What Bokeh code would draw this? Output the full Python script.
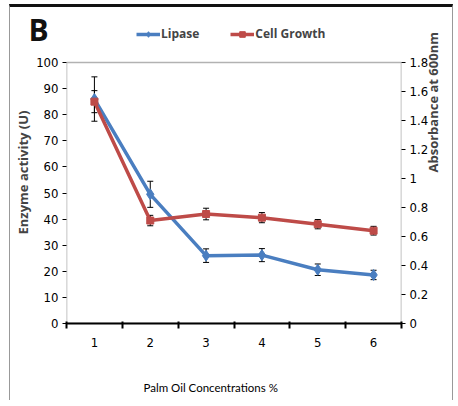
import math
from bokeh.plotting import figure
from bokeh.models import (ColumnDataSource, Range1d, LinearAxis, FixedTicker, Whisker, Title,
                          TeeHead, Legend, LegendItem, NumeralTickFormatter, BoxAnnotation)
from bokeh.embed import file_html
from bokeh.resources import INLINE

# ---- data ----
conc = [1, 2, 3, 4, 5, 6]
conc_labels = ["1", "2", "3", "4", "5", "6"]
lipase = [86.0, 49.5, 26.0, 26.2, 20.6, 18.6]
lipase_err = [8.5, 5.0, 2.6, 2.5, 2.2, 1.8]
growth = [1.53, 0.71, 0.755, 0.73, 0.685, 0.64]
growth_err = [0.076, 0.036, 0.04, 0.035, 0.032, 0.03]
left_ticks = list(range(0, 101, 10))
right_ticks = [round(0.2 * i, 1) for i in range(10)]

BLUE = "#4A7EC0"
RED = "#BE4B48"
TICKF = "DejaVu Sans Condensed, Lato"
TEXTF = "Lato"
BOLDF = "Open Sans"

LEFT_MAX = 100.0
RIGHT_MAX = 1.8
HEAD = 1.1571  # extra room above the plot box for the legend

src_l = ColumnDataSource(dict(x=conc, y=lipase,
                              lo=[a - b for a, b in zip(lipase, lipase_err)],
                              hi=[a + b for a, b in zip(lipase, lipase_err)]))
src_g = ColumnDataSource(dict(x=conc, y=growth,
                              lo=[a - b for a, b in zip(growth, growth_err)],
                              hi=[a + b for a, b in zip(growth, growth_err)]))

p = figure(width=444, height=396, output_backend="svg", toolbar_location=None,
           x_range=Range1d(0.5, 6.5), y_range=Range1d(0, LEFT_MAX * HEAD),
           min_border_left=56, min_border_right=52, min_border_top=14, min_border_bottom=80)
p.styles = {"margin": "4px 0px 0px 9px", "border-top": "3px solid #111111",
            "border-left": "1px solid #999999", "border-right": "1px solid #999999"}
p.extra_y_ranges = {"abs": Range1d(0, RIGHT_MAX * HEAD)}
p.grid.visible = False
p.outline_line_color = None
p.background_fill_color = "white"
p.border_fill_color = "white"

# panel letter (title)
p.title.text = "B"
p.title.align = "left"
p.title.offset = -38
p.title.standoff = -56
p.title.text_font = BOLDF
p.title.text_font_style = "bold"
p.title.text_font_size = "30px"
p.title.text_color = "#111111"

# plot box
p.add_layout(BoxAnnotation(left=0.5, right=6.5, bottom=0, top=LEFT_MAX, fill_color=None,
                           line_color="black", line_width=1.6))

# x axis
xa = p.xaxis[0]
xa.ticker = FixedTicker(ticks=conc, minor_ticks=[0.5 + i for i in range(7)])
xa.major_label_overrides = {c: l for c, l in zip(conc, conc_labels)}
xa.major_tick_out = 0
xa.major_tick_in = 0
xa.minor_tick_out = 5
xa.minor_tick_in = 2
xa.minor_tick_line_color = "black"
xa.minor_tick_line_width = 2
xa.axis_line_width = 2
xa.major_label_standoff = 9
xa.major_label_text_font = TICKF
xa.major_label_text_font_size = "13px"
xa.major_label_text_color = "black"
p.add_layout(Title(text="\n\nPalm Oil Concentrations %", align="left", offset=77, standoff=6,
                   vertical_align="bottom", text_font=TEXTF, text_font_style="normal",
                   text_font_size="11.5px", text_color="black"), "below")

# left axis
ya = p.yaxis[0]
ya.ticker = FixedTicker(ticks=left_ticks)
ya.minor_tick_line_color = None
ya.axis_line_color = None
ya.major_tick_out = 4
ya.major_tick_in = 0
ya.major_label_standoff = 4
ya.major_label_text_font = TICKF
ya.major_label_text_font_size = "13px"
ya.major_label_text_color = "black"
ya.axis_label = "Enzyme activity (U)"
ya.axis_label_text_font = BOLDF
ya.axis_label_text_font_style = "bold"
ya.axis_label_text_font_size = "13px"
ya.axis_label_standoff = 1

# right axis
ra = LinearAxis(y_range_name="abs", ticker=FixedTicker(ticks=right_ticks),
                formatter=NumeralTickFormatter(format="0.[0]"))
ra.minor_tick_line_color = None
ra.axis_line_color = None
ra.major_tick_out = 4
ra.major_tick_in = 0
ra.major_label_standoff = 4
ra.major_label_text_font = TICKF
ra.major_label_text_font_size = "13px"
ra.major_label_text_color = "black"
ra.axis_label = "Absorbance at 600nm"
ra.axis_label_orientation = -3 * math.pi / 2
ra.axis_label_text_font = BOLDF
ra.axis_label_text_font_style = "bold"
ra.axis_label_text_font_size = "13px"
ra.axis_label_standoff = 2
p.add_layout(ra, "right")

# error bars
for src, rng in ((src_l, "default"), (src_g, "abs")):
    p.add_layout(Whisker(source=src, base="x", lower="lo", upper="hi", y_range_name=rng,
                         line_color="black", line_width=1,
                         upper_head=TeeHead(size=6, line_color="black"),
                         lower_head=TeeHead(size=6, line_color="black")))

# series
rl = p.line("x", "y", source=src_l, line_color=BLUE, line_width=3.5)
rg = p.line("x", "y", source=src_g, y_range_name="abs", line_color=RED, line_width=3.5)
ml = p.scatter("x", "y", source=src_l, marker="diamond", size=11, fill_color=BLUE, line_color=BLUE)
mg = p.scatter("x", "y", source=src_g, y_range_name="abs", marker="square", size=7,
               fill_color=RED, line_color=RED)

legend = Legend(items=[LegendItem(label="Lipase", renderers=[rl, ml]),
                       LegendItem(label="Cell Growth", renderers=[rg, mg])],
                orientation="horizontal", location=(70, 281), padding=0, margin=0,
                spacing=31, glyph_width=24, glyph_height=14, label_standoff=1,
                border_line_color=None, background_fill_alpha=0,
                label_text_font=BOLDF, label_text_font_style="bold", label_text_font_size="12px")
p.add_layout(legend, "center")

open("out.html", "w").write(file_html(p, INLINE))
